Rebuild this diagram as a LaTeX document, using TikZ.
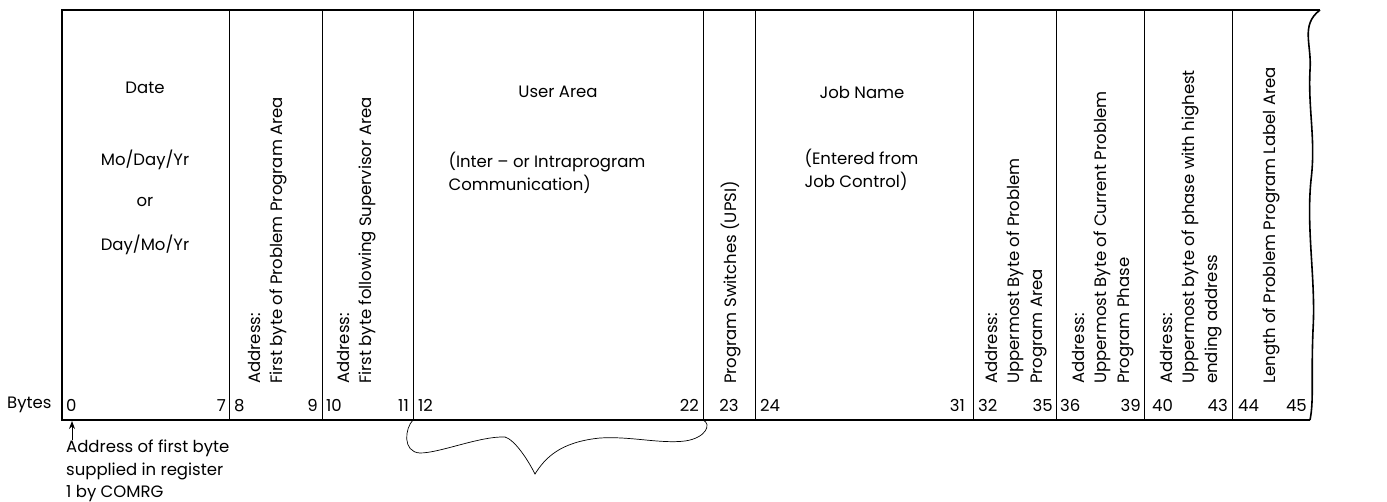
\documentclass[tikz,border=0pt]{standalone}
\usepackage{fontspec}
\setmainfont{Poppins}
\usetikzlibrary{arrows.meta}
\newcommand{\fieldfont}{\fontsize{16.5}{22.5}\selectfont}

\tikzset{
  sidetext/.style={rotate=90, anchor=north west, align=left, inner sep=0pt},
  bytenum/.style={inner sep=0pt, anchor=base west},
  divider/.style={line width=1pt},
  frame/.style={line width=2pt},
}

\begin{document}
\begin{tikzpicture}[x=1pt, y=-1pt, font=\fieldfont, >=Stealth]
  \useasboundingbox (0,0) rectangle (1387,501);

  % outer frame with torn right edge
  \draw[frame] (1320,10) -- (62,10) -- (62,420) -- (1310,420);
  \draw[line width=1.6pt] (1320,10) .. controls (1300,25) and (1312,45) .. (1310,70)
        .. controls (1308,110) and (1316,140) .. (1311,180)
        .. controls (1306,230) and (1316,280) .. (1313,330)
        .. controls (1311,380) and (1314,400) .. (1310,420);

  % field boundaries
  \foreach \x/\name in {229/d8, 322/d10, 413/d12, 703/d23, 755/d24, 973/d32, 1056/d36, 1144/d40, 1232/d44}{
    \coordinate (\name top) at (\x,10);
    \coordinate (\name) at (\x,420);
    \draw[divider] (\name top) -- (\name);
  }

  % byte numbers
  \node[anchor=east] (bytes) at (55,405) {Bytes};
  \foreach \n/\x in {0/66, 8/234, 10/326, 12/418, 24/760, 32/978, 36/1060, 40/1152, 44/1238}
    \node[bytenum] (lo\n) at (\x,411) {\n};
  \foreach \n/\x in {7/226, 9/318, 11/409, 22/699, 31/965, 35/1053, 39/1141, 43/1228, 45/1307}
    \node[bytenum, anchor=base east] (hi\n) at (\x,411) {\n};
  \node[bytenum, anchor=base] (b23) at (729,411) {23};

  % horizontal field texts
  \node (date) at (145,88) {Date};
  \node (mdy) at (145,160) {Mo/Day/Yr};
  \node (or) at (145,202) {or};
  \node (dmy) at (145,245) {Day/Mo/Yr};

  \node (user) at (558,92) {User Area};
  \node[anchor=west, align=left] (usernote) at (445,173) {(Inter -- or Intraprogram\\Communication)};

  \node (job) at (862,92) {Job Name};
  \node[anchor=west, align=left] (jobnote) at (801,170) {(Entered from\\Job Control)};

  % vertical field texts
  \node[sidetext] (f8) at (248,384) {Address:\\First byte of Problem Program Area};
  \node[sidetext] (f10) at (337,384) {Address:\\First byte following Supervisor Area};
  \node[sidetext] (f23) at (721,384) {Program Switches (UPSI)};
  \node[sidetext] (f32) at (985,384) {Address:\\Uppermost Byte of Problem\\Program Area};
  \node[sidetext] (f36) at (1072,384) {Address:\\Uppermost Byte of Current Problem\\Program Phase};
  \node[sidetext] (f40) at (1160,384) {Address:\\Uppermost byte of phase with highest\\ending address};
  \node[sidetext] (f44) at (1263,384) {Length of Problem Program Label Area};

  % pointer to byte 0
  \coordinate (start) at (72,421);
  \node[anchor=north west, align=left, inner sep=0pt] (addrnote) at (66,440)
        {Address of first byte\\supplied in register\\1 by COMRG};
  \draw[line width=1pt, -{Stealth[length=8pt, width=6pt]}] (addrnote.north -| start) -- (start);

  % brace under the user area
  \draw[line width=0.7pt] (d12) .. controls (405,428) and (402,452) .. (420,453)
        .. controls (440,453) and (480,436) .. (505,437)
        .. controls (515,440) and (528,460) .. (535,474)
        .. controls (545,458) and (560,442) .. (600,438)
        .. controls (630,436) and (660,444) .. (685,441)
        .. controls (706,438) and (712,424) .. (d23);
\end{tikzpicture}
\end{document}
